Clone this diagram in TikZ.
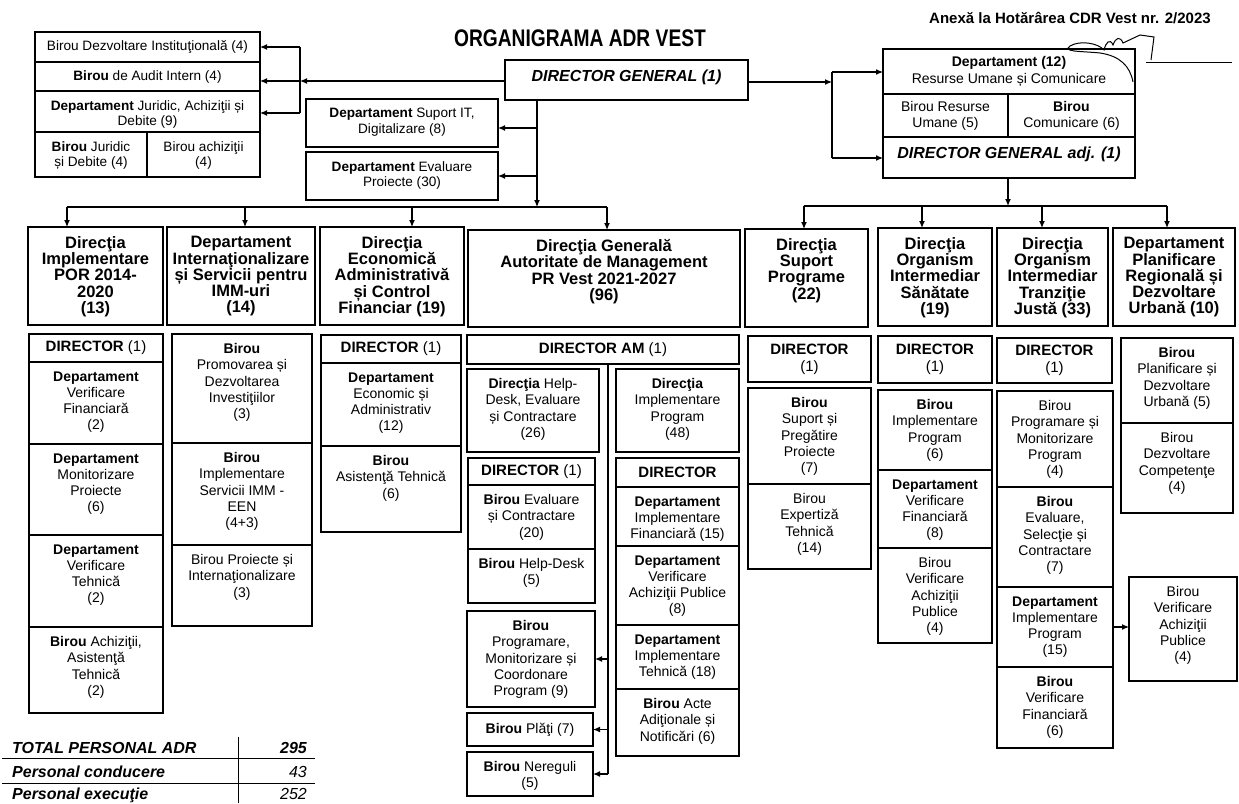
\documentclass[tikz,border=0pt]{standalone}
\usepackage{fontspec}
\setmainfont{Liberation Sans}
\usepackage{graphicx}
\usetikzlibrary{arrows.meta}
\setlength{\lineskiplimit}{-20pt}
\newcommand\Dfont{\fontsize{15}{17}\selectfont}
\newcommand\mkbox[7][box]{\node[#1] (#2) at (#3,#4) {\parbox[c][\dimexpr#6pt-#4pt\relax][t]{\dimexpr#5pt-#3pt\relax}{\centering\vspace*{9.5pt}#7\par}};}
\newcommand\mkcbox[7][box]{\node[#1] (#2) at (#3,#4) {\parbox[c][\dimexpr#6pt-#4pt\relax][c]{\dimexpr#5pt-#3pt\relax}{\centering #7\par}};}
\tikzset{
 box/.style={draw, line width=1.2pt, inner sep=0pt, outer sep=0pt, anchor=north west, font={\fontsize{14}{16.2}\selectfont}},
 sbox/.style={box, font={\fontsize{13.6}{15.2}\selectfont}},
 hbox/.style={box, font={\fontsize{16.5}{16.25}\selectfont\bfseries}},
 dbox/.style={box, font={\fontsize{16}{18}\selectfont\bfseries\itshape}},
 arr/.style={line width=1.2pt, -{Latex[length=7pt,width=6pt]}},
 ln/.style={line width=1.2pt},
 tbl/.style={inner sep=0pt, font={\fontsize{16}{18}\selectfont\bfseries\itshape}},
 tnum/.style={inner sep=0pt, font={\fontsize{16}{18}\selectfont\itshape}},
}
\begin{document}
\begin{tikzpicture}[x=1pt,y=-1pt]
\useasboundingbox (0,0) rectangle (1239,803);
\fill[white] (0,0) rectangle (1239,803);

% titles
\node[font={\fontsize{24}{24}\selectfont\bfseries}] (title) at (580,38) {\scalebox{0.8}[1]{ORGANIGRAMA ADR VEST}};
\node[font={\fontsize{15}{17}\selectfont\bfseries}] (anexa) at (1070,18) {Anexă la Hotărârea CDR Vest nr. 2/2023};
% signature
\draw[line width=1pt] (1133,82) .. controls (1130,66) and (1120,56) .. (1100,53) .. controls (1080,51) and (1062,52) .. (1070,46) .. controls (1080,40) and (1098,43) .. (1104,50) .. controls (1106,42) and (1110,38) .. (1113,45) .. controls (1116,37) and (1120,36) .. (1123,43) -- (1140,35) -- (1154,37) -- (1151,60);
\draw[line width=1pt] (1146,62) -- (1232,62);

% top-left stack
\mkcbox[sbox]{tl1}{35}{32}{260}{62}{Birou Dezvoltare Instituţională (4)}
\mkcbox[sbox]{tl2}{35}{62}{260}{91}{\textbf{Birou} de Audit Intern (4)}
\mkbox[sbox]{tl3}{35}{91}{260}{132}{\textbf{Departament} Juridic, Achiziţii și\\Debite (9)}
\mkbox[sbox]{tl4}{35}{132}{147}{177}{\textbf{Birou} Juridic\\și Debite (4)}
\mkbox[sbox]{tl5}{147}{132}{260}{177}{Birou achiziţii\\(4)}

% director general and middle
\mkbox[dbox]{dg}{505}{60}{748}{100}{DIRECTOR GENERAL (1)}
\mkbox[sbox]{it}{306}{99}{498}{147}{\textbf{Departament} Suport IT,\\Digitalizare (8)}
\mkbox[sbox]{ev}{306}{152}{498}{200}{\textbf{Departament} Evaluare\\Proiecte (30)}

% right top stack
\mkcbox{rhr}{883}{49}{1135}{94}{\textbf{Departament (12)}\\Resurse Umane și Comunicare}
\mkcbox{rru}{883}{94}{1008}{137}{Birou Resurse\\Umane (5)}
\mkcbox{rcom}{1008}{94}{1135}{137}{\textbf{Birou}\\Comunicare (6)}
\mkbox[dbox]{dga}{883}{137}{1135}{178}{DIRECTOR GENERAL adj. (1)}

% header boxes
\mkbox[hbox]{h1}{28}{227}{163}{325}{Direcţia\\Implementare\\POR 2014-\\2020\\(13)}
\mkbox[hbox]{h2}{167}{227}{315}{325}{Departament\\Internaţionalizare\\și Servicii pentru\\IMM-uri\\(14)}
\mkbox[hbox]{h3}{320}{227}{464}{325}{Direcţia\\Economică\\Administrativă\\și Control\\Financiar (19)}
\mkbox[hbox]{h4}{468}{230}{740}{327}{Direcţia Generală\\Autoritate de Management\\PR Vest 2021-2027\\(96)}
\mkbox[hbox]{h5}{745}{229}{868}{327}{Direcţia\\Suport\\Programe\\(22)}
\mkbox[hbox]{h6}{878}{228}{992}{326}{Direcţia\\Organism\\Intermediar\\Sănătate\\(19)}
\mkbox[hbox]{h7}{997}{228}{1108}{326}{Direcţia\\Organism\\Intermediar\\Tranziţie\\Justă (33)}
\mkbox[hbox]{h8}{1113}{228}{1235}{326}{Departament\\Planificare\\Regională și\\Dezvoltare\\Urbană (10)}

% column 1
\mkcbox{c1a}{29}{334}{163}{362}{\Dfont\textbf{DIRECTOR} (1)}
\mkbox{c1b}{29}{362}{163}{444}{\textbf{Departament}\\Verificare\\Financiară\\(2)}
\mkbox{c1c}{29}{444}{163}{535}{\textbf{Departament}\\Monitorizare\\Proiecte\\(6)}
\mkbox{c1d}{29}{535}{163}{627}{\textbf{Departament}\\Verificare\\Tehnică\\(2)}
\mkbox{c1e}{29}{627}{163}{713}{\textbf{Birou} Achiziţii,\\Asistenţă\\Tehnică\\(2)}

% column 2
\mkbox{c2a}{172}{334}{312}{443}{\textbf{Birou}\\Promovarea și\\Dezvoltarea\\Investiţiilor\\(3)}
\mkbox{c2b}{172}{443}{312}{545}{\textbf{Birou}\\Implementare\\Servicii IMM -\\EEN\\(4+3)}
\mkbox{c2c}{172}{545}{312}{626}{Birou Proiecte și\\Internaţionalizare\\(3)}

% column 3
\mkcbox{c3a}{321}{335}{461}{363}{\Dfont\textbf{DIRECTOR} (1)}
\mkbox{c3b}{321}{363}{461}{446}{\textbf{Departament}\\Economic și\\Administrativ\\(12)}
\mkbox{c3c}{321}{446}{461}{532}{\textbf{Birou}\\Asistenţă Tehnică\\(6)}

% column 4 (AM)
\mkcbox{am}{467}{335}{739}{364}{\Dfont\textbf{DIRECTOR AM} (1)}
\mkbox{hd}{467}{369}{599}{452}{\textbf{Direcţia} Help-\\Desk, Evaluare\\și Contractare\\(26)}
\mkbox{ip}{616}{369}{739}{452}{\textbf{Direcţia}\\Implementare\\Program\\(48)}
\mkcbox{d4a}{468}{458}{595}{485}{\Dfont\textbf{DIRECTOR} (1)}
\mkbox{d4b}{468}{485}{595}{549}{\textbf{Birou} Evaluare\\și Contractare\\(20)}
\mkbox{d4c}{468}{549}{595}{603}{\textbf{Birou} Help-Desk\\(5)}
\mkbox{bpmc}{467}{611}{595}{707}{\textbf{Birou}\\Programare,\\Monitorizare și\\Coordonare\\Program (9)}
\mkcbox{bpl}{467}{713}{593}{746}{\textbf{Birou} Plăţi (7)}
\mkbox{bner}{467}{752}{593}{796}{\textbf{Birou} Nereguli\\(5)}
\mkcbox{d4r}{616}{458}{739}{487}{\Dfont\textbf{DIRECTOR}}
\mkbox{r1}{616}{487}{739}{546}{\textbf{Departament}\\Implementare\\Financiară (15)}
\mkbox{r2}{616}{546}{739}{625}{\textbf{Departament}\\Verificare\\Achiziţii Publice\\(8)}
\mkbox{r3}{616}{625}{739}{689}{\textbf{Departament}\\Implementare\\Tehnică (18)}
\mkbox{r4}{616}{689}{739}{756}{\textbf{Birou} Acte\\Adiţionale și\\Notificări (6)}

% column 5
\mkcbox{c5a}{748}{336}{871}{382}{\Dfont\textbf{DIRECTOR}\\(1)}
\mkbox{c5b}{748}{388}{871}{484}{\textbf{Birou}\\Suport și\\Pregătire\\Proiecte\\(7)}
\mkbox{c5c}{748}{484}{871}{569}{Birou\\Expertiză\\Tehnică\\(14)}

% column 6
\mkcbox{c6a}{878}{336}{992}{383}{\Dfont\textbf{DIRECTOR}\\(1)}
\mkbox{c6b}{878}{390}{992}{470}{\textbf{Birou}\\Implementare\\Program\\(6)}
\mkbox{c6c}{878}{470}{992}{548}{\textbf{Departament}\\Verificare\\Financiară\\(8)}
\mkbox{c6d}{878}{548}{992}{643}{Birou\\Verificare\\Achiziţii\\Publice\\(4)}

% column 7
\mkcbox{c7a}{997}{338}{1112}{383}{\Dfont\textbf{DIRECTOR}\\(1)}
\mkbox{c7b}{997}{391}{1113}{487}{Birou\\Programare și\\Monitorizare\\Program\\(4)}
\mkbox{c7c}{997}{487}{1113}{587}{\textbf{Birou}\\Evaluare,\\Selecţie și\\Contractare\\(7)}
\mkbox{c7d}{997}{587}{1113}{667}{\textbf{Departament}\\Implementare\\Program\\(15)}
\mkbox{c7e}{997}{667}{1113}{748}{\textbf{Birou}\\Verificare\\Financiară\\(6)}
\mkbox{bva}{1129}{577}{1237}{681}{Birou\\Verificare\\Achiziţii\\Publice\\(4)}

% column 8
\mkbox{c8a}{1121}{338}{1233}{423}{\textbf{Birou}\\Planificare și\\Dezvoltare\\Urbană (5)}
\mkbox{c8b}{1121}{423}{1233}{513}{Birou\\Dezvoltare\\Competenţe\\(4)}

% ---- connectors ----
% left group
\coordinate (lj1) at (300,47);
\coordinate (lj2) at (300,81);
\coordinate (lj3) at (300,113);
\draw[ln] (lj1) -- (lj3);
\draw[arr] (lj1) -- (lj1 -| tl1.east);
\draw[arr] (lj2) -- (lj2 -| tl2.east);
\draw[arr] (lj3) -- (lj3 -| tl3.east);
\draw[arr] (dg.west |- lj2) -- (lj2);
% middle
\coordinate (mbus) at (537,207);
\coordinate (mj1) at (537,128);
\coordinate (mj2) at (537,176);
\draw[arr] (dg.south -| mbus) -- (mbus);
\draw[arr] (mj1) -- (mj1 -| it.east);
\draw[arr] (mj2) -- (mj2 -| ev.east);
\coordinate (lb1) at (67,207);
\coordinate (lb2) at (245,207);
\coordinate (lb3) at (412,207);
\coordinate (lb4) at (607,207);
\draw[ln] (lb1) -- (lb4);
\draw[arr] (lb1) -- (lb1 |- h1.north);
\draw[arr] (lb2) -- (lb2 |- h2.north);
\draw[arr] (lb3) -- (lb3 |- h3.north);
\draw[arr] (lb4) -- (lb4 |- h4.north);
% right group
\coordinate (rj0) at (832,82);
\coordinate (rj1) at (832,72);
\coordinate (rj2) at (832,158);
\draw[arr] (dg.east |- rj0) -- (rj0);
\draw[ln] (rj1) -- (rj2);
\draw[arr] (rj1) -- (rj1 -| rhr.west);
\draw[arr] (rj2) -- (rj2 -| dga.west);
\coordinate (rbus) at (1008,206);
\draw[arr] (dga.south -| rbus) -- (rbus);
\coordinate (rb1) at (804,206);
\coordinate (rb2) at (922,206);
\coordinate (rb3) at (1042,206);
\coordinate (rb4) at (1167,206);
\draw[ln] (rb1) -- (rb4);
\draw[arr] (rb1) -- (rb1 |- h5.north);
\draw[arr] (rb2) -- (rb2 |- h6.north);
\draw[arr] (rb3) -- (rb3 |- h7.north);
\draw[arr] (rb4) -- (rb4 |- h8.north);
% AM vertical
\coordinate (amv) at (608,700);
\draw[ln] (am.south -| amv) -- (amv |- bner.east);
\draw[arr] (amv |- bpmc.east) -- (bpmc.east);
\draw[arr] (amv |- bpl.east) -- (bpl.east);
\draw[arr] (amv |- bner.east) -- (bner.east);
% column 7 to right box
\draw[arr] (c7d.east) -- (c7d.east -| bva.west);

% ---- totals table ----
\node[tbl, anchor=base west] (tt1) at (12,753) {TOTAL PERSONAL ADR};
\node[tbl, anchor=base east] (tn1) at (307,753) {295};
\node[tbl, anchor=base west] (tt2) at (12,777) {Personal conducere};
\node[tnum, anchor=base east] (tn2) at (307,777) {43};
\node[tbl, anchor=base west] (tt3) at (12,799) {Personal execuţie};
\node[tnum, anchor=base east] (tn3) at (307,799) {252};
\draw[line width=1pt] (2,758) -- (315,758);
\draw[line width=1pt] (2,783) -- (315,783);
\draw[line width=0.8pt] (238,737) -- (238,803);
\end{tikzpicture}
\end{document}
